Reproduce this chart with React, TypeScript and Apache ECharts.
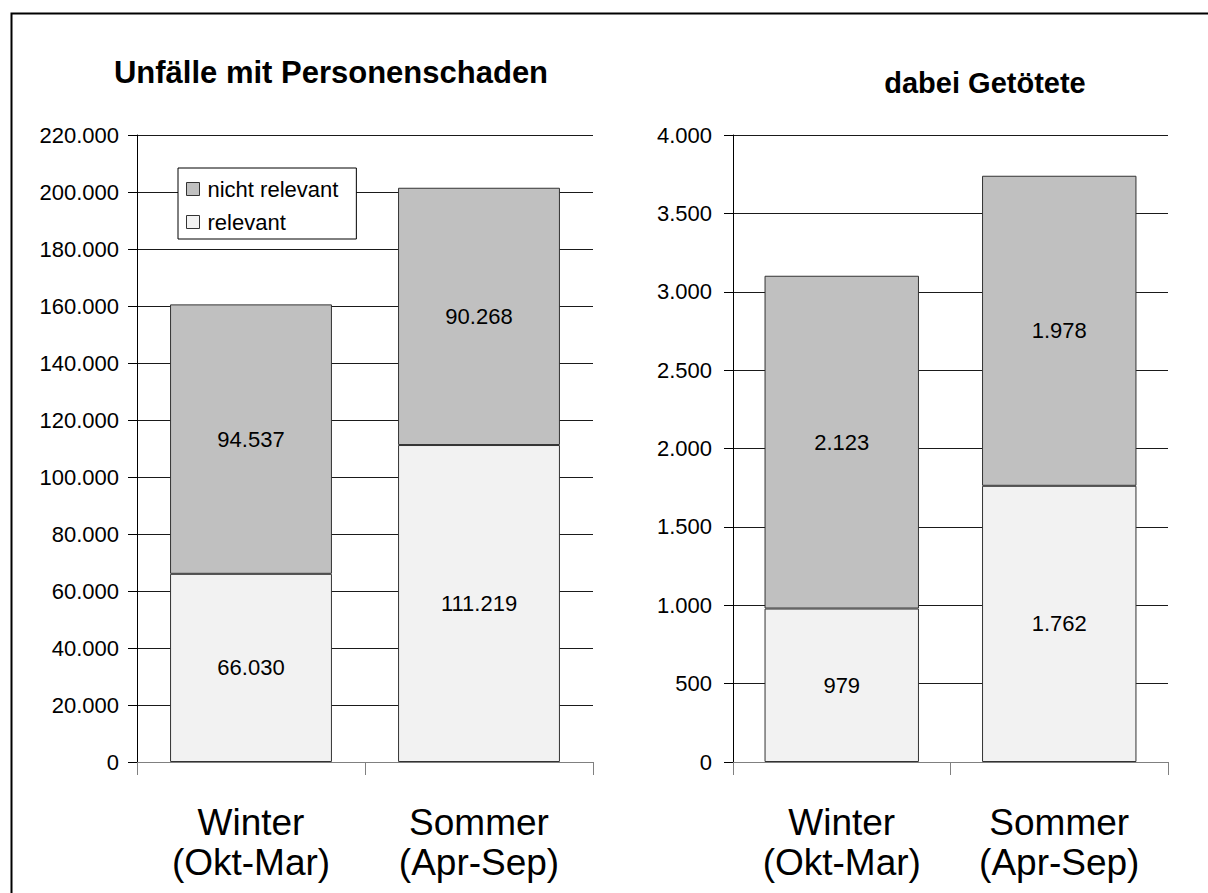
import React, { useEffect, useRef } from "react";
import * as echarts from "echarts";

const categories = ["Winter\n(Okt-Mar)", "Sommer\n(Apr-Sep)"];
const seriesNames = ["relevant", "nicht relevant"];
const unfaelleRelevant = [66030, 111219];
const unfaelleNichtRelevant = [94537, 90268];
const getoeteteRelevant = [979, 1762];
const getoeteteNichtRelevant = [2123, 1978];
const titleLeft = "Unfälle mit Personenschaden";
const titleRight = "dabei Getötete";

const FONT = "'Liberation Sans', Arial, Helvetica, sans-serif";
const fmt = (v: number) => String(Math.round(v)).replace(/\B(?=(\d{3})+(?!\d))/g, ".");

const COLOR_REL = "#f2f2f2";
const COLOR_NREL = "#c0c0c0";
const BORDER = "#333333";

export default function App() {
  const ref = useRef<HTMLDivElement>(null);
  useEffect(() => {
    if (!ref.current) return;
    const chart = echarts.init(ref.current, null, { renderer: "svg" });
    const yAxisCommon = (gridIndex: number, max: number, interval: number, margin: number) => ({
      type: "value",
      gridIndex,
      min: 0,
      max,
      interval,
      axisLine: { show: true, lineStyle: { color: "#000", width: 1 } },
      axisTick: { show: true, length: 9, lineStyle: { color: "#000" } },
      splitLine: { show: true, lineStyle: { color: "#1a1a1a", width: 1 } },
      axisLabel: {
        margin,
        fontSize: 22,
        color: "#000",
        fontFamily: FONT,
        formatter: (v: number) => fmt(v),
      },
    });
    const xAxisCommon = (gridIndex: number) => ({
      type: "category",
      gridIndex,
      data: categories,
      axisLine: { show: true, lineStyle: { color: "#808080", width: 1 } },
      axisTick: { show: true, length: 13, alignWithLabel: false, lineStyle: { color: "#808080" } },
      axisLabel: {
        margin: 40,
        fontSize: 37,
        lineHeight: 40,
        color: "#000",
        fontFamily: FONT,
        interval: 0,
      },
    });
    const label = {
      show: true,
      position: "inside",
      fontSize: 22,
      color: "#000",
      fontFamily: FONT,
      formatter: (p: any) => fmt(p.value),
    };
    const mkSeries = (name: string, data: number[], idx: number, stack: string, color: string) => ({
      name,
      type: "bar",
      stack,
      xAxisIndex: idx,
      yAxisIndex: idx,
      data,
      barCategoryGap: "29%",
      itemStyle: { color, borderColor: BORDER, borderWidth: 1 },
      label,
      emphasis: { disabled: true },
    });
    chart.setOption({
      animation: false,
      backgroundColor: "#ffffff",
      textStyle: { fontFamily: FONT },
      title: [
        {
          text: titleLeft,
          left: 326,
          top: 52,
          textAlign: "center",
          textStyle: { fontSize: 31, fontWeight: "bold", color: "#000", fontFamily: FONT },
        },
        {
          text: titleRight,
          left: 980,
          top: 63,
          textAlign: "center",
          textStyle: { fontSize: 29, fontWeight: "bold", color: "#000", fontFamily: FONT },
        },
      ],
      legend: {
        data: ["nicht relevant", "relevant"],
        orient: "vertical",
        left: 178,
        top: 168,
        padding: [10, 18, 6, 8],
        itemGap: 11,
        itemWidth: 13,
        itemHeight: 13,
        icon: "rect",
        backgroundColor: "#ffffff",
        borderColor: "#000",
        borderWidth: 1,
        borderRadius: 0,
        itemStyle: { borderColor: BORDER, borderWidth: 1 },
        textStyle: { fontSize: 22, color: "#000", fontFamily: FONT, padding: [0, 0, 0, 3] },
        selectedMode: false,
      },
      grid: [
        { left: 137, right: 1208 - 593, top: 135, bottom: 893 - 762, containLabel: false },
        { left: 733, right: 1208 - 1168, top: 135, bottom: 893 - 762, containLabel: false },
      ],
      xAxis: [xAxisCommon(0), xAxisCommon(1)],
      yAxis: [yAxisCommon(0, 220000, 20000, 18), yAxisCommon(1, 4000, 500, 21)],
      series: [
        mkSeries(seriesNames[0], unfaelleRelevant, 0, "a", COLOR_REL),
        mkSeries(seriesNames[1], unfaelleNichtRelevant, 0, "a", COLOR_NREL),
        mkSeries(seriesNames[0], getoeteteRelevant, 1, "b", COLOR_REL),
        mkSeries(seriesNames[1], getoeteteNichtRelevant, 1, "b", COLOR_NREL),
      ],
      graphic: [
        {
          type: "rect",
          left: 9,
          top: 11,
          shape: { x: 0, y: 0, width: 1400, height: 1100 },
          style: { fill: "none", stroke: "#000", lineWidth: 2 },
          silent: true,
          z: 100,
        },
      ],
    });
    return () => chart.dispose();
  }, []);
  return (
    <div
      ref={ref}
      style={{ position: "fixed", left: 0, top: 0, width: 1208, height: 893, background: "#fff" }}
    />
  );
}
